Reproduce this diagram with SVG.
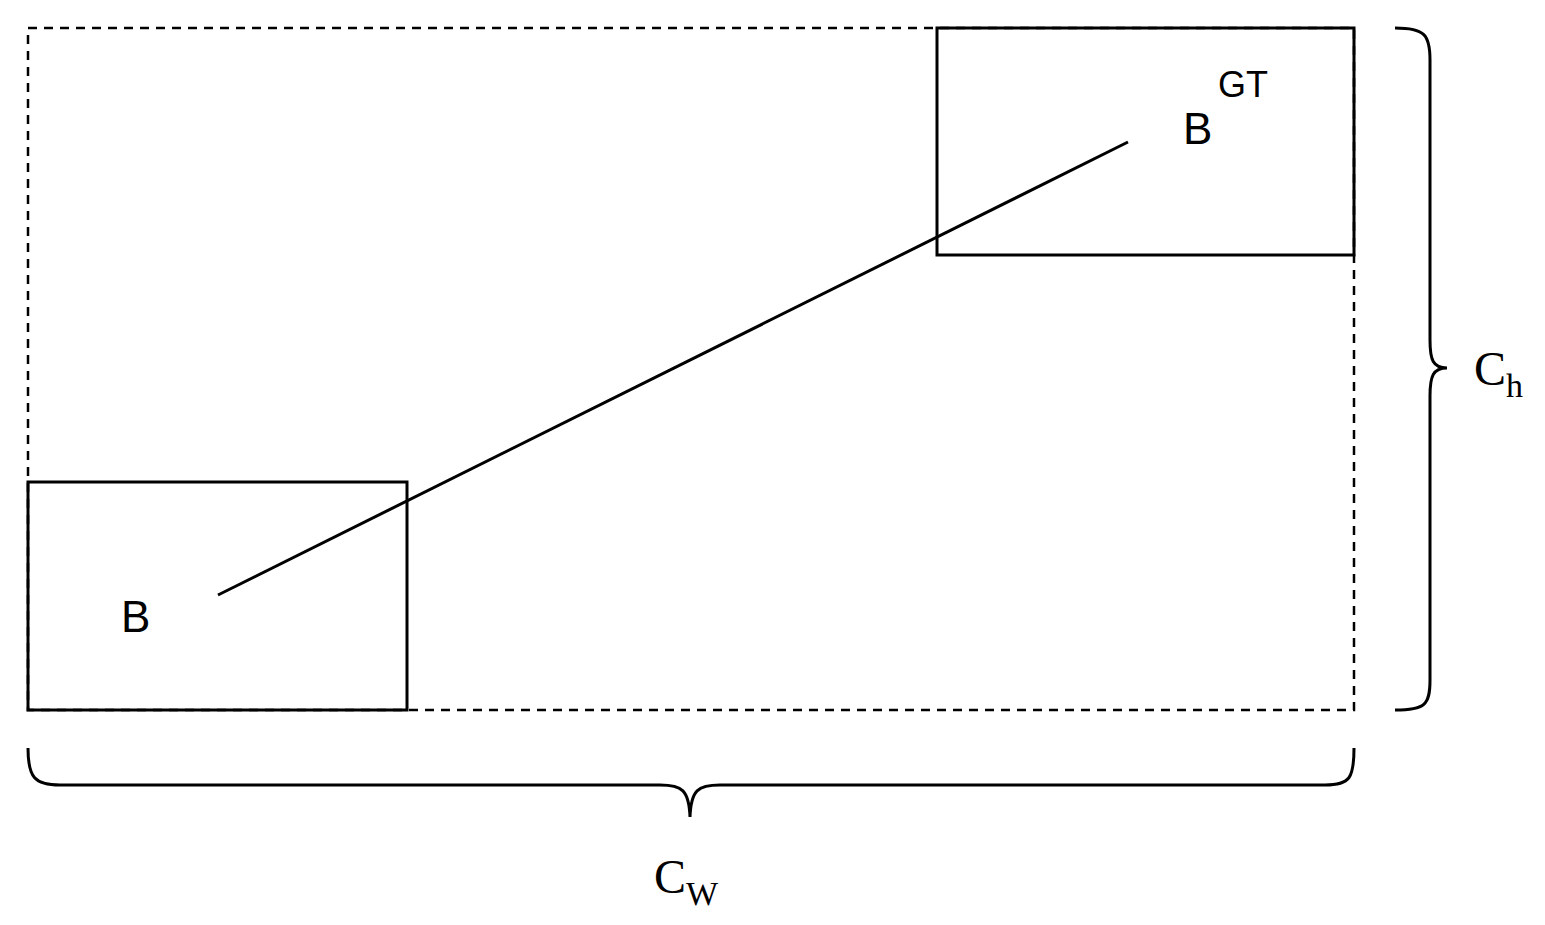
<svg xmlns="http://www.w3.org/2000/svg" width="1545" height="925" viewBox="0 0 1545 925">
<style>
.s{fill:none;stroke:#000;stroke-width:3}
.d{fill:none;stroke:#000;stroke-width:2.5;stroke-dasharray:9,7}
.a{font-family:"Liberation Sans",Arial,sans-serif;fill:#000}
.t{font-family:"Liberation Serif","Times New Roman",serif;fill:#000}
</style>
<rect width="1545" height="925" fill="#fff"/>
<g id="canvas"><rect class="d" x="28" y="28" width="1326" height="682"/></g>
<g id="boxB"><rect class="s" x="28" y="482" width="379" height="228"/><text class="a" x="121" y="632" font-size="44">B</text></g>
<g id="boxGT"><rect class="s" x="937" y="28" width="417" height="227"/><text class="a" x="1183" y="144" font-size="44">B</text><text class="a" x="1218" y="97" font-size="36">GT</text></g>
<g id="connectors"><line class="s" x1="218" y1="595" x2="1128" y2="142"/></g>
<g id="braceH"><path class="s" d="M1395,28 C1425,28 1430,35 1430,60 L1430,340 C1430,360 1433,368 1447,368 C1433,368 1430,376 1430,396 L1430,680 C1430,705 1425,710 1395,710"/><text class="t" x="1474" y="385" font-size="48">C<tspan font-size="34" dy="12">h</tspan></text></g>
<g id="braceW"><path class="s" d="M28,748 C28,778 35,785 60,785 L660,785 C682,785 689,790 690,817 C691,790 698,785 720,785 L1325,785 C1350,785 1354,778 1354,748"/><text class="t" x="654" y="893" font-size="48">C<tspan font-size="34" dy="12">W</tspan></text></g>
</svg>
